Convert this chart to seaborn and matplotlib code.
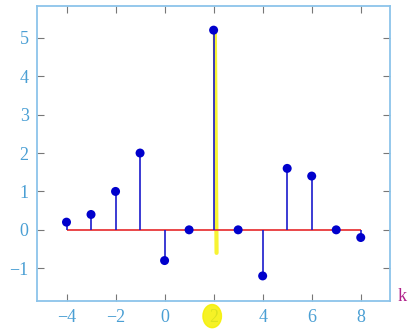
"""
Stem plot of a discrete sequence x[k] for k = -4..8.
"""

import matplotlib
matplotlib.use("Agg")
import matplotlib.pyplot as plt
from matplotlib.patches import Ellipse
import seaborn as sns
import pandas as pd

# datos
k = [-4, -3, -2, -1, 0, 1, 2, 3, 4, 5, 6, 7, 8]
x_k = [0.2, 0.4, 1.0, 2.0, -0.8, 0.0, 5.2, 0.0, -1.2, 1.6, 1.4, 0.0, -0.2]
xticks = [-4, -2, 0, 2, 4, 6, 8]
yticks = [-1, 0, 1, 2, 3, 4, 5]

df = pd.DataFrame({"k": k, "x": x_k})

sns.set_style("ticks")
plt.rcParams["font.family"] = ["Liberation Serif", "DejaVu Serif"]

azul_eje = "#8cc4ea"
azul_texto = "#4a9fd4"
azul_stem = "#1a1acc"

fig = plt.figure(figsize=(4.12, 3.31), dpi=100)
ax = fig.add_axes([0.09, 0.091, 0.857, 0.891])

# linea base roja
ax.hlines(0, min(k), max(k), color="#e8383a", lw=1.3, zorder=2)
# tallos
ax.vlines(df["k"], 0, df["x"], color=azul_stem, lw=1.2, zorder=3)
# marcadores
sns.scatterplot(data=df, x="k", y="x", ax=ax, color="#0000cc", s=42,
                edgecolor="none", zorder=4, legend=False)

# resaltado amarillo a mano
ax.plot([2.05, 2.12], [5.15, -0.6], color="#f5f000", lw=3, alpha=0.8,
        solid_capstyle="round", zorder=1)

ax.set_xlim(-5.2, 9.2)
ax.set_ylim(-1.85, 5.83)
ax.set_xticks(xticks)
ax.set_yticks(yticks)
ax.set_xlabel("")
ax.set_ylabel("")

ax.tick_params(direction="in", top=True, right=True, length=5, width=0.8,
               color="#777777", labelsize=13, labelcolor=azul_texto, pad=6)
for sp in ax.spines.values():
    sp.set_color(azul_eje)
    sp.set_linewidth(1.3)

# marca amarilla sobre la etiqueta 2
fig.patches.append(Ellipse((0.515, 0.045), 0.045, 0.07, transform=fig.transFigure,
                           color="#f5f000", alpha=0.85, zorder=0))

fig.text(0.975, 0.105, "k", color="#b0208a", fontsize=13, ha="center", va="center",
         family=["Liberation Serif"])

fig.savefig("out.png", dpi=100)
